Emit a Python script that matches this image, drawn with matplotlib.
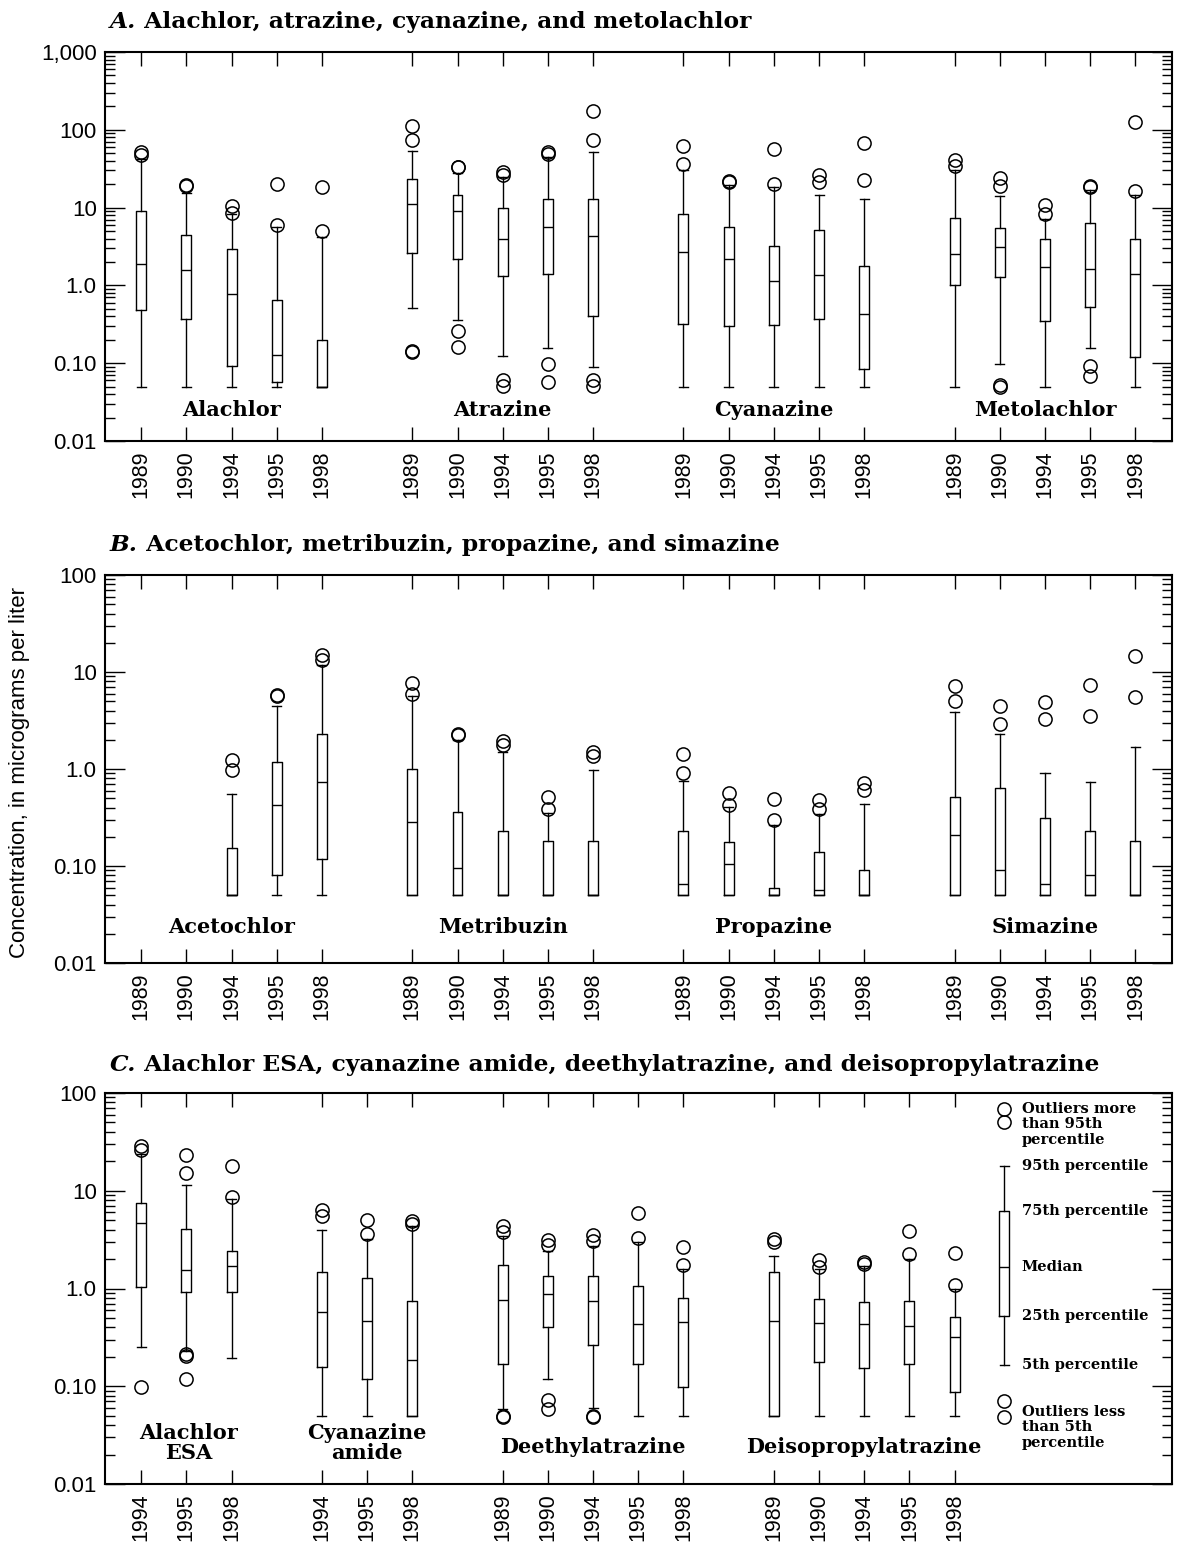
import matplotlib
matplotlib.use('Agg')
import matplotlib.pyplot as plt
from matplotlib.ticker import LogLocator, NullFormatter, FixedLocator, FixedFormatter

plt.rcParams['font.family'] = ['Liberation Sans', 'DejaVu Sans']

## data: [5th, 25th, median, 75th, 95th] per year, plus outliers
years5 = ['1989', '1990', '1994', '1995', '1998']
years3 = ['1994', '1995', '1998']

# Panel A
alachlor_box = [[0.05, 0.49, 1.9, 9.1, 42], [0.05, 0.37, 1.6, 4.5, 15.5],
                [0.05, 0.093, 0.77, 2.9, 8.2], [0.05, 0.058, 0.128, 0.64, 5.6],
                [0.05, 0.05, 0.05, 0.2, 4.2]]
alachlor_out = [[52, 48], [19.5, 19], [10.4, 8.4], [20, 5.9], [18.5, 5.0]]

atrazine_box = [[0.51, 2.6, 11, 23, 53], [0.36, 2.2, 9.1, 14.5, 28],
                [0.125, 1.32, 4.0, 10, 24.7], [0.157, 1.4, 5.6, 13, 45],
                [0.089, 0.41, 4.3, 13, 52]]
atrazine_out = [[112, 74, 0.145, 0.14], [33.5, 33, 0.26, 0.16], [29, 26, 0.06, 0.051],
                [52, 49, 0.098, 0.058], [177, 74, 0.06, 0.051]]

cyanazine_box = [[0.05, 0.32, 2.7, 8.2, 30], [0.05, 0.30, 2.2, 5.6, 19.5],
                 [0.05, 0.31, 1.14, 3.2, 18.5], [0.05, 0.37, 1.35, 5.1, 14.7],
                 [0.05, 0.084, 0.43, 1.77, 13]]
cyanazine_out = [[62, 36], [22, 21.5], [56, 20], [26, 21.5], [68, 22.5]]

metolachlor_box = [[0.05, 1.0, 2.5, 7.3, 30], [0.098, 1.3, 3.1, 5.4, 14],
                   [0.05, 0.35, 1.72, 3.95, 7.2], [0.157, 0.52, 1.64, 6.4, 17],
                   [0.05, 0.12, 1.41, 3.95, 14.5]]
metolachlor_out = [[41, 34], [23.7, 19, 0.05, 0.052], [10.7, 8.2],
                   [19, 18.5, 0.093, 0.069], [126, 16.3]]

# Panel B (no acetochlor samples in 1989 and 1990)
acetochlor_box = [[0.05, 0.05, 0.05, 0.155, 0.556], [0.05, 0.08, 0.43, 1.17, 4.5],
                  [0.05, 0.117, 0.73, 2.27, 11.9]]
acetochlor_out = [[1.24, 0.98], [5.8, 5.6], [15, 13.2]]

metribuzin_box = [[0.05, 0.05, 0.285, 0.99, 5.6], [0.05, 0.05, 0.095, 0.36, 2.0],
                  [0.05, 0.05, 0.05, 0.232, 1.5], [0.05, 0.05, 0.05, 0.18, 0.35],
                  [0.05, 0.05, 0.05, 0.18, 0.98]]
metribuzin_out = [[7.7, 6.0], [2.3, 2.26], [1.96, 1.77], [0.52, 0.39], [1.5, 1.36]]

propazine_box = [[0.05, 0.05, 0.066, 0.232, 0.76], [0.05, 0.05, 0.106, 0.177, 0.41],
                 [0.05, 0.05, 0.05, 0.06, 0.263], [0.05, 0.05, 0.056, 0.14, 0.34],
                 [0.05, 0.05, 0.05, 0.09, 0.44]]
propazine_out = [[1.42, 0.92], [0.57, 0.43], [0.49, 0.30], [0.48, 0.39], [0.72, 0.61]]

simazine_box = [[0.05, 0.05, 0.207, 0.51, 3.9], [0.05, 0.05, 0.09, 0.63, 2.27],
                [0.05, 0.05, 0.066, 0.31, 0.92], [0.05, 0.05, 0.08, 0.232, 0.74],
                [0.05, 0.05, 0.05, 0.18, 1.7]]
simazine_out = [[7.1, 5.0], [4.5, 2.9], [4.9, 3.3], [7.4, 3.5], [14.5, 5.5]]

# Panel C
alachlor_esa_box = [[0.25, 1.03, 4.7, 7.5, 24], [0.23, 0.92, 1.53, 4.06, 11.5],
                    [0.196, 0.92, 1.71, 2.43, 8.2]]
alachlor_esa_out = [[29, 26, 0.099], [23.3, 15.1, 0.215, 0.205, 0.12], [17.8, 8.6]]

cyanazine_amide_box = [[0.05, 0.158, 0.57, 1.48, 3.96], [0.05, 0.12, 0.466, 1.29, 3.2],
                       [0.05, 0.05, 0.184, 0.74, 4.4]]
cyanazine_amide_out = [[6.4, 5.5], [5.06, 3.58], [4.9, 4.6]]

deethyl_box = [[0.059, 0.169, 0.76, 1.76, 3.47], [0.119, 0.4, 0.87, 1.35, 2.43],
               [0.06, 0.267, 0.74, 1.35, 2.7], [0.05, 0.169, 0.43, 1.07, 2.96],
               [0.05, 0.099, 0.45, 0.8, 1.58]]
deethyl_out = [[4.4, 3.75, 0.05, 0.049], [3.13, 2.78, 0.072, 0.059],
               [3.52, 3.08, 0.05, 0.049], [5.9, 3.3], [2.63, 1.73]]

deisopropyl_box = [[0.05, 0.05, 0.46, 1.48, 2.16], [0.05, 0.178, 0.44, 0.79, 1.58],
                   [0.05, 0.152, 0.43, 0.72, 1.71], [0.05, 0.169, 0.41, 0.74, 2.0],
                   [0.05, 0.088, 0.32, 0.51, 1.0]]
deisopropyl_out = [[3.2, 2.96], [1.95, 1.67], [1.85, 1.78], [3.84, 2.23], [2.32, 1.09]]

# explanation box
legend_box = [[0.164, 0.52, 1.64, 6.25, 17.8]]
legend_out = [[69, 51, 0.07, 0.049]]
legend_text = [(48, 'Outliers more\nthan 95th\npercentile'), (17.8, '95th percentile'),
               (6.25, '75th percentile'), (1.64, 'Median'), (0.52, '25th percentile'),
               (0.164, '5th percentile'), (0.038, 'Outliers less\nthan 5th\npercentile')]


def to_stats(box, out):
    return [dict(whislo=b[0], q1=b[1], med=b[2], q3=b[3], whishi=b[4], fliers=o)
            for b, o in zip(box, out)]


line = dict(color='black', linewidth=1.0)
flier = dict(marker='o', markerfacecolor='none', markeredgecolor='black',
             markersize=9.5, markeredgewidth=1.1, linestyle='none')


def draw_boxes(ax, box, out, pos):
    ax.bxp(to_stats(box, out), positions=pos, widths=0.22, capwidths=0.2,
           boxprops=line, whiskerprops=line, capprops=line, medianprops=line,
           flierprops=flier, manage_ticks=False)


def setup_axes(ax, ymax, positions, labels):
    ax.set_yscale('log')
    ax.set_ylim(0.01, ymax)
    ax.set_xlim(-0.8, 22.81)
    majors = [0.01, 0.1, 1, 10, 100, 1000]
    names = ['0.01', '0.10', '1.0', '10', '100', '1,000']
    k = majors.index(ymax) + 1
    ax.yaxis.set_major_locator(FixedLocator(majors[:k]))
    ax.yaxis.set_major_formatter(FixedFormatter(names[:k]))
    ax.yaxis.set_minor_locator(LogLocator(base=10, subs=range(2, 10)))
    ax.yaxis.set_minor_formatter(NullFormatter())
    ax.set_xticks(positions)
    ax.set_xticklabels(labels, rotation=90, fontsize=15.5)
    ax.tick_params(axis='y', which='major', direction='in', left=True, right=True,
                   length=14.5, width=1.0, labelsize=16, pad=6)
    ax.tick_params(axis='y', which='minor', direction='in', left=True, right=True,
                   length=7, width=1.0)
    ax.tick_params(axis='x', which='major', direction='in', top=True, bottom=True,
                   length=10, width=1.0, pad=7)
    for s in ax.spines.values():
        s.set_linewidth(1.5)


def panel_title(ax, y, letter, rest):
    t = fig.text(110 / 1177, 1 - y / 1543, letter, fontsize=16.8, family='DejaVu Serif',
                 style='italic', weight='bold', va='baseline')
    ax.annotate(' ' + rest, xy=(1, 0), xycoords=t, va='bottom', ha='left',
                fontsize=16.8, family='DejaVu Serif', weight='bold',
                annotation_clip=False)


group_font = dict(fontsize=15, family='DejaVu Serif', weight='bold', ha='center', va='center')

fig = plt.figure(figsize=(11.77, 15.43), dpi=100)
W, H = 1177, 1543

def make_axes(top, bottom):
    return fig.add_axes([105 / W, 1 - bottom / H, (1172 - 105) / W, (bottom - top) / H])

pos5 = [[0, 1, 2, 3, 4], [6, 7, 8, 9, 10], [12, 13, 14, 15, 16], [18, 19, 20, 21, 22]]
all5 = sum(pos5, [])

# ---- Panel A
axA = make_axes(52, 441)
for box, out, p in zip([alachlor_box, atrazine_box, cyanazine_box, metolachlor_box],
                       [alachlor_out, atrazine_out, cyanazine_out, metolachlor_out], pos5):
    draw_boxes(axA, box, out, p)
setup_axes(axA, 1000, all5, years5 * 4)
for x, name in zip([2, 8, 14, 20], ['Alachlor', 'Atrazine', 'Cyanazine', 'Metolachlor']):
    axA.text(x, 0.08, name, transform=axA.get_xaxis_transform(), **group_font)

# ---- Panel B
axB = make_axes(575, 963)
draw_boxes(axB, acetochlor_box, acetochlor_out, [2, 3, 4])
for box, out, p in zip([metribuzin_box, propazine_box, simazine_box],
                       [metribuzin_out, propazine_out, simazine_out], pos5[1:]):
    draw_boxes(axB, box, out, p)
setup_axes(axB, 100, all5, years5 * 4)
for x, name in zip([2, 8, 14, 20], ['Acetochlor', 'Metribuzin', 'Propazine', 'Simazine']):
    axB.text(x, 0.093, name, transform=axB.get_xaxis_transform(), **group_font)

# ---- Panel C
axC = make_axes(1093, 1484)
posC = [[0, 1, 2], [4, 5, 6], [8, 9, 10, 11, 12], [14, 15, 16, 17, 18]]
for box, out, p in zip([alachlor_esa_box, cyanazine_amide_box, deethyl_box, deisopropyl_box],
                       [alachlor_esa_out, cyanazine_amide_out, deethyl_out, deisopropyl_out], posC):
    draw_boxes(axC, box, out, p)
draw_boxes(axC, legend_box, legend_out, [19.1])
setup_axes(axC, 100, sum(posC, []), years3 * 2 + years5 * 2)
for x, y, name in zip([1.05, 5, 10, 16], [0.105, 0.105, 0.095, 0.095],
                      ['Alachlor\nESA', 'Cyanazine\namide', 'Deethylatrazine', 'Deisopropylatrazine']):
    axC.text(x, y, name, transform=axC.get_xaxis_transform(), linespacing=1.0, **group_font)
for y, txt in legend_text:
    axC.text(19.48, y, txt, fontsize=10.5, family='DejaVu Serif', weight='bold',
             ha='left', va='center', linespacing=1.15)

# ---- titles and shared axis label
for ax, y, letter, rest in [(axA, 28, 'A.', 'Alachlor, atrazine, cyanazine, and metolachlor'),
                            (axB, 551, 'B.', 'Acetochlor, metribuzin, propazine, and simazine'),
                            (axC, 1071, 'C.', 'Alachlor ESA, cyanazine amide, deethylatrazine, and deisopropylatrazine')]:
    panel_title(ax, y, letter, rest)

fig.text(20 / W, 1 - 772 / H, 'Concentration, in micrograms per liter', rotation=90,
         fontsize=16, ha='center', va='center')

fig.savefig('out.png', dpi=100)
